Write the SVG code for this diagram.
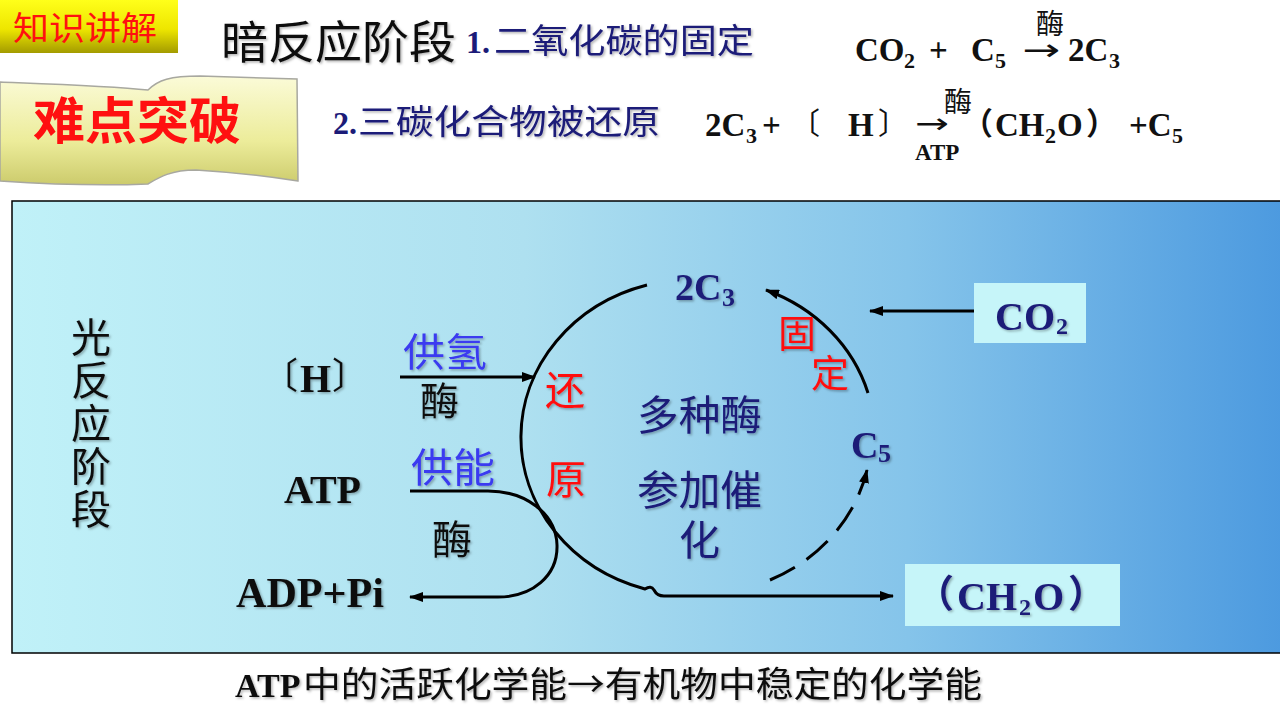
<svg xmlns="http://www.w3.org/2000/svg" width="1280" height="720" viewBox="0 0 1280 720">
<defs>
  <linearGradient id="panelG" x1="0" y1="0" x2="1" y2="0">
    <stop offset="0" stop-color="#c0f1f8"/>
    <stop offset="0.4" stop-color="#aee0f0"/>
    <stop offset="0.7" stop-color="#85c4ea"/>
    <stop offset="1" stop-color="#4b99df"/>
  </linearGradient>
  <linearGradient id="badgeG" x1="0" y1="0" x2="0" y2="1">
    <stop offset="0" stop-color="#ffff1a"/>
    <stop offset="0.55" stop-color="#eee600"/>
    <stop offset="1" stop-color="#a39b00"/>
  </linearGradient>
  <linearGradient id="scrollG" x1="0" y1="0" x2="0" y2="1">
    <stop offset="0" stop-color="#fbfbd8"/>
    <stop offset="0.6" stop-color="#ecec9a"/>
    <stop offset="1" stop-color="#cccb6c"/>
  </linearGradient>
  <filter id="sh" x="-10%" y="-10%" width="130%" height="130%">
    <feDropShadow dx="1.5" dy="1.5" stdDeviation="1" flood-color="#000" flood-opacity="0.3"/>
  </filter>
  <marker id="ah" markerUnits="userSpaceOnUse" markerWidth="14" markerHeight="10" refX="13" refY="5" orient="auto">
    <path d="M0,0 L14,5 L0,10 Z" fill="#000"/>
  </marker>
  <style>
    .cjk{font-family:"Noto Sans CJK SC","Noto Sans CJK TC",sans-serif;}
    .lat{font-family:"Liberation Serif","Times New Roman",serif;font-weight:bold;}
    .arr{font-family:"DejaVu Sans",sans-serif;}
    .navy{fill:#1b1b78;}
    .red{fill:#ff1010;}
    .blue{fill:#3a3af0;}
    .blk{fill:#111;}
    .ln{fill:none;stroke:#000;stroke-width:3;}
  </style>
</defs>

<rect x="0" y="0" width="1280" height="720" fill="#fff"/>

<!-- header badge -->
<g id="badge">
  <rect x="0" y="0" width="178" height="53" fill="url(#badgeG)"/>
  <text class="cjk red" x="13" y="40" font-size="33" textLength="144" lengthAdjust="spacingAndGlyphs">知识讲解</text>
</g>

<g id="title">
  <text class="cjk blk" x="221" y="59" font-size="45" textLength="235" lengthAdjust="spacingAndGlyphs" filter="url(#sh)">暗反应阶段</text>
</g>

<g id="scroll">
  <path d="M0,82 C50,84 110,86 148,90 C158,80 170,76 200,76 L297,79 L298,181 C265,176 230,172 196,170 C170,170 158,178 148,184 C100,186 45,184 0,181 Z" fill="url(#scrollG)" stroke="#a8a8a0" stroke-width="1.5"/>
  <text class="cjk red" x="33" y="139" font-size="50" font-weight="bold" textLength="208" lengthAdjust="spacingAndGlyphs">难点突破</text>
</g>

<!-- heading lines -->
<g id="line1">
  <text class="lat navy" x="466" y="53" font-size="32">1.</text>
  <text class="cjk navy" x="494" y="53" font-size="34" textLength="260" lengthAdjust="spacingAndGlyphs" filter="url(#sh)">二氧化碳的固定</text>
  <text class="lat blk" x="855" y="61" font-size="33">CO</text>
  <text class="lat blk" x="904" y="68" font-size="22">2</text>
  <text class="lat blk" x="929" y="61" font-size="33">+</text>
  <text class="lat blk" x="971" y="61" font-size="33">C</text>
  <text class="lat blk" x="995" y="68" font-size="22">5</text>
  <text class="arr blk" x="1022" y="60" font-size="30" textLength="38" lengthAdjust="spacingAndGlyphs">→</text>
  <text class="cjk blk" x="1036" y="34" font-size="28">酶</text>
  <text class="lat blk" x="1068" y="61" font-size="33">2C</text>
  <text class="lat blk" x="1109" y="68" font-size="22">3</text>
</g>

<g id="line2">
  <text class="lat navy" x="333" y="134" font-size="32">2.</text>
  <text class="cjk navy" x="358" y="134" font-size="34" textLength="302" lengthAdjust="spacingAndGlyphs" filter="url(#sh)">三碳化合物被还原</text>
  <text class="lat blk" x="705" y="136" font-size="33">2C</text>
  <text class="lat blk" x="746" y="143" font-size="22">3</text>
  <text class="lat blk" x="762" y="136" font-size="33">+</text>
  <text class="cjk blk" x="790" y="134" font-size="30">〔</text>
  <text class="lat blk" x="848" y="136" font-size="33">H</text>
  <text class="cjk blk" x="878" y="134" font-size="30">〕</text>
  <text class="arr blk" x="915" y="133" font-size="28" textLength="34" lengthAdjust="spacingAndGlyphs">→</text>
  <text class="cjk blk" x="944" y="112" font-size="28">酶</text>
  <text class="lat blk" x="915" y="160" font-size="23">ATP</text>
  <text class="cjk blk" x="962" y="134" font-size="31" font-weight="bold">（</text>
  <text class="lat blk" x="995" y="136" font-size="33">CH</text>
  <text class="lat blk" x="1045" y="143" font-size="22">2</text>
  <text class="lat blk" x="1057" y="136" font-size="33">O</text>
  <text class="cjk blk" x="1086" y="134" font-size="31" font-weight="bold">）</text>
  <text class="lat blk" x="1129" y="136" font-size="33">+C</text>
  <text class="lat blk" x="1172" y="143" font-size="22">5</text>
</g>

<!-- main panel -->
<rect id="panel" x="12" y="201" width="1280" height="452" fill="url(#panelG)" stroke="#000" stroke-width="1.5"/>

<g id="connectors">
  <path class="ln" d="M647,285 A172,158 0 0 0 645,589 Q651,585 654,590 Q657,596 664,596 H893" marker-end="url(#ah)"/>
  <path class="ln" d="M868,393 A172,158 0 0 0 766,290" marker-end="url(#ah)"/>
  <path class="ln" d="M770,580 A172,158 0 0 0 867,470" stroke-dasharray="28 14" marker-end="url(#ah)"/>
  <path class="ln" d="M400,377 H535" marker-end="url(#ah)"/>
  <path class="ln" d="M410,491 H488 C525,491 556,513 557,545 C558,576 532,597 498,597 H410" marker-end="url(#ah)"/>
  <path class="ln" d="M975,311 H870" marker-end="url(#ah)"/>
</g>

<g id="light-stage" filter="url(#sh)">
  <text class="cjk blk" x="91" y="317" font-size="40" writing-mode="vertical-rl" letter-spacing="3">光反应阶段</text>
</g>

<g id="node-H" filter="url(#sh)">
  <text class="cjk blk" x="262" y="389" font-size="36">〔</text>
  <text class="lat blk" x="300" y="392" font-size="40">H</text>
  <text class="cjk blk" x="332" y="389" font-size="36">〕</text>
</g>

<g id="node-ATP" filter="url(#sh)">
  <text class="lat blk" x="284" y="503" font-size="40">ATP</text>
</g>

<g id="node-ADP" filter="url(#sh)">
  <text class="lat blk" x="236" y="607" font-size="42" textLength="148" lengthAdjust="spacingAndGlyphs">ADP+Pi</text>
</g>

<g id="labels-left" filter="url(#sh)">
  <text class="cjk blue" x="403" y="366" font-size="39" textLength="84" lengthAdjust="spacingAndGlyphs">供氢</text>
  <text class="cjk blk" x="420" y="415" font-size="39">酶</text>
  <text class="cjk blue" x="411" y="482" font-size="40" textLength="84" lengthAdjust="spacingAndGlyphs">供能</text>
  <text class="cjk blk" x="432" y="554" font-size="40">酶</text>
</g>

<g id="labels-cycle" filter="url(#sh)">
  <text class="cjk red" x="545" y="405" font-size="40">还</text>
  <text class="cjk red" x="546" y="494" font-size="40">原</text>
  <text class="cjk navy" x="637" y="430" font-size="41" textLength="125" lengthAdjust="spacingAndGlyphs">多种酶</text>
  <text class="cjk navy" x="637" y="505" font-size="41" textLength="125" lengthAdjust="spacingAndGlyphs">参加催</text>
  <text class="cjk navy" x="679" y="555" font-size="41">化</text>
  <text class="cjk red" x="778" y="347" font-size="38">固</text>
  <text class="cjk red" x="811" y="387" font-size="38">定</text>
</g>

<g id="node-2C3" filter="url(#sh)">
  <text class="lat navy" x="675" y="300" font-size="38">2C</text>
  <text class="lat navy" x="722" y="306" font-size="26">3</text>
</g>

<g id="node-C5" filter="url(#sh)">
  <text class="lat navy" x="851" y="458" font-size="38">C</text>
  <text class="lat navy" x="878" y="462" font-size="26">5</text>
</g>

<g id="node-CO2">
  <rect x="974" y="283" width="112" height="60" fill="#c6f5f9"/>
  <g filter="url(#sh)">
    <text class="lat navy" x="995" y="330" font-size="40">CO</text>
    <text class="lat navy" x="1056" y="334" font-size="24">2</text>
  </g>
</g>

<g id="node-CH2O">
  <rect x="905" y="564" width="215" height="62" fill="#c6f5f9"/>
  <g filter="url(#sh)">
    <text class="cjk navy" x="916" y="607" font-size="38" font-weight="bold">（</text>
    <text class="lat navy" x="957" y="610" font-size="40">CH</text>
    <text class="lat navy" x="1019" y="615" font-size="24">2</text>
    <text class="lat navy" x="1033" y="610" font-size="40">O</text>
    <text class="cjk navy" x="1068" y="607" font-size="38" font-weight="bold">）</text>
  </g>
</g>

<g id="footer" filter="url(#sh)">
  <text class="lat blk" x="235" y="697" font-size="34">ATP</text>
  <text class="cjk blk" x="303" y="697" font-size="35" textLength="679" lengthAdjust="spacingAndGlyphs">中的活跃化学能→有机物中稳定的化学能</text>
</g>
</svg>
